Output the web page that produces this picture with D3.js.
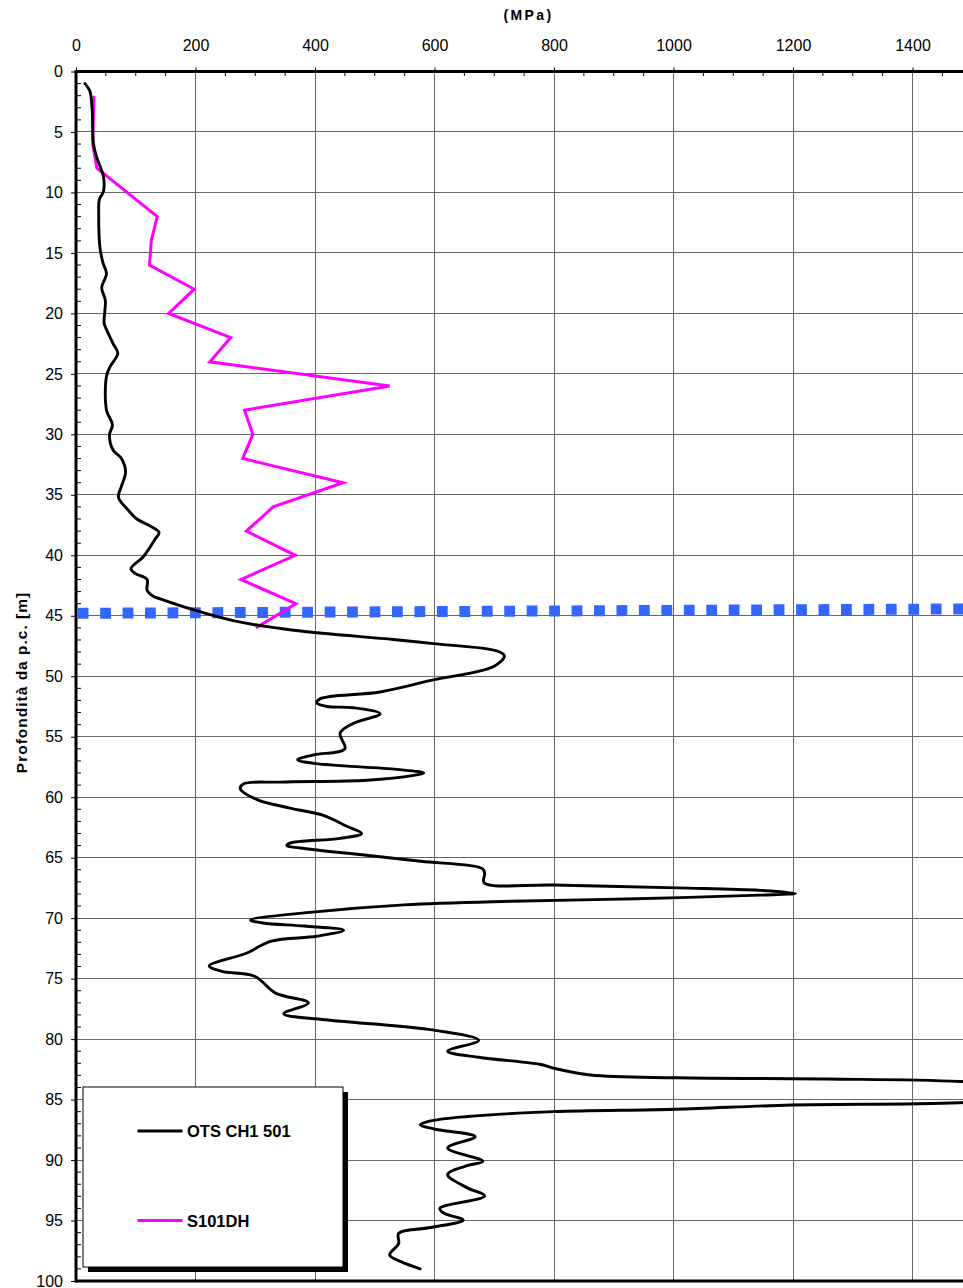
<!DOCTYPE html>
<html>
<head>
<meta charset="utf-8">
<script src="https://cdn.jsdelivr.net/npm/d3@7"></script>
<style>
  html, body { margin: 0; padding: 0; background: #fff; }
  svg { display: block; font-family: "Liberation Sans", Arial, sans-serif; }
</style>
</head>
<body>
<svg id="chart" width="963" height="1288"></svg>
<script>
// Modulus (MPa) vs depth below ground level (m)
const seriesNames = ["OTS CH1 501", "S101DH"];
const seriesColors = ["#000000", "#ff00ff"];

const xTickValues = [0, 200, 400, 600, 800, 1000, 1200, 1400];
const yTickValues = [0, 5, 10, 15, 20, 25, 30, 35, 40, 45, 50, 55, 60, 65, 70, 75, 80, 85, 90, 95, 100];

// OTS CH1 501 profile
const otsDepth = [
  1.0, 1.6, 3.1, 5.9, 7.0, 7.8, 8.7, 9.9, 10.6, 11.7, 14.5, 15.8, 16.7, 17.9, 18.9, 20.8, 21.1, 22.5, 23.3,
  24.4, 25.2, 28.0, 29.2, 30.05, 31.3, 32.0, 33.1, 34.3, 35.2, 36.3, 37.0, 37.5, 38.1, 38.7, 40.1, 41.1,
  41.5, 42.0, 42.9, 43.4, 43.6, 44.5, 45.4, 46.2, 46.96, 47.3, 47.9, 48.3, 49.2, 50.3, 51.3, 51.85, 52.2,
  52.5, 52.6, 53.1, 53.9, 54.7, 56.0, 56.5, 56.9, 57.2, 57.7, 58.0, 58.2, 58.6, 58.75, 58.9, 59.3, 60.2,
  60.9, 61.5, 62.4, 63.0, 63.4, 63.8, 64.0, 64.2, 64.8, 65.3, 65.9, 66.3, 67.07, 67.26, 67.5, 67.7, 67.95,
  68.1, 68.4, 68.6, 68.9, 69.5, 70.15, 70.4, 70.65, 71.0, 71.5, 71.9, 72.9, 73.95, 74.4, 74.8, 76.2, 77.0,
  77.9, 78.4, 79.2, 80.1, 81.0, 81.5, 82.1, 82.4, 82.97, 83.2, 83.3, 83.5, 84.4, 85.26, 85.45, 85.8, 86.0,
  86.4, 86.8, 87.1, 87.43, 88.07, 89.0, 90.1, 90.5, 91.2, 92.3, 92.97, 94.0, 94.4, 94.96, 95.6, 96.06,
  96.9, 97.85, 98.4, 99.0
];
const otsValue = [
  15, 23, 27, 29, 34, 40, 46, 46, 39, 38, 40, 45, 51, 43, 49, 47, 49, 62, 70,
  57, 51, 51, 61, 56, 62, 76, 83, 76, 71, 88, 102, 121, 139, 132, 113, 92,
  99, 119, 119, 130, 141, 196, 263, 364, 531, 598, 704, 717, 699, 598, 509, 409, 403,
  420, 464, 509, 464, 442, 450, 398, 371, 398, 537, 582, 565, 487, 342, 280, 275, 303,
  358, 414, 453, 478, 442, 358, 353, 375, 486, 577, 680, 684, 683, 798, 1007, 1145, 1204,
  1145, 937, 729, 549, 396, 292, 313, 382, 448, 403, 327, 285, 223, 244, 299, 334, 389,
  348, 417, 590, 674, 622, 674, 778, 799, 861, 1005, 1257, 1479, 1750, 1479, 1198, 1002, 799,
  655, 590, 576, 599, 668, 622, 681, 652, 622, 655, 684, 609, 616, 648, 590, 540,
  540, 525, 544, 576
];

// S101DH profile
const s101Depth = [2, 6, 8, 12, 14, 16, 18, 20, 22, 24, 26, 28, 30, 32, 34, 36, 38, 40, 42, 44, 46];
const s101Value = [30, 28, 35, 136, 126, 123, 198, 155, 259, 224, 525, 282, 296, 279, 447, 330, 285, 367, 276, 368, 301];

// groundwater level
const waterX = [0, 1500];
const waterDepth = [44.80, 44.43];

const svg = d3.select("#chart");
const plotLeft = 76, plotTop = 71.5, plotBottom = 1281;
const x = d3.scaleLinear().domain([0, 1500]).range([plotLeft, plotLeft + 1500 * 0.5975]);
const y = d3.scaleLinear().domain([0, 100]).range([plotTop, plotBottom]);
const plotRight = x(1500);

svg.append("defs").append("clipPath").attr("id", "plotclip")
  .append("rect").attr("x", plotLeft).attr("y", plotTop)
  .attr("width", plotRight - plotLeft).attr("height", plotBottom - plotTop);

// grid
const grid = svg.append("g").attr("stroke", "#666").attr("stroke-width", 1).attr("shape-rendering", "crispEdges");
grid.selectAll("line.gx").data(xTickValues.filter(v => v > 0)).join("line").attr("class", "gx")
  .attr("x1", d => x(d)).attr("x2", d => x(d)).attr("y1", plotTop).attr("y2", plotBottom);
grid.selectAll("line.gy").data(yTickValues.filter(v => v > 0 && v < 100)).join("line").attr("class", "gy")
  .attr("x1", plotLeft).attr("x2", plotRight).attr("y1", d => y(d)).attr("y2", d => y(d));

// top axis with major ticks above and minor ticks below
const xAxis = d3.axisTop(x).tickValues(xTickValues).tickSize(4).tickPadding(17).tickFormat(d3.format("d"));
const gx = svg.append("g").attr("transform", `translate(0,${plotTop})`).call(xAxis);
gx.select(".domain").remove();
gx.selectAll("text").attr("font-size", 16).attr("fill", "#000").attr("font-family", "Liberation Sans, Arial, sans-serif");
gx.selectAll("line").attr("stroke", "#000");
const xMinor = d3.range(50, 1500, 50).filter(v => v % 200 !== 0);
svg.append("g").selectAll("line").data(xMinor).join("line")
  .attr("x1", d => x(d)).attr("x2", d => x(d)).attr("y1", plotTop).attr("y2", plotTop + 4.5)
  .attr("stroke", "#000").attr("stroke-width", 1);

// left axis with major ticks outside and minor ticks inside
const yAxis = d3.axisLeft(y).tickValues(yTickValues).tickSize(5).tickPadding(8).tickFormat(d3.format("d"));
const gy = svg.append("g").attr("transform", `translate(${plotLeft},0)`).call(yAxis);
gy.select(".domain").remove();
gy.selectAll("text").attr("font-size", 16).attr("fill", "#000").attr("font-family", "Liberation Sans, Arial, sans-serif");
gy.selectAll("line").attr("stroke", "#000");
const yMinor = d3.range(1, 100, 1).filter(v => v % 5 !== 0);
svg.append("g").selectAll("line").data(yMinor).join("line")
  .attr("x1", plotLeft).attr("x2", plotLeft + 5).attr("y1", d => y(d)).attr("y2", d => y(d))
  .attr("stroke", "#000").attr("stroke-width", 1);

// frame lines
svg.append("line").attr("x1", plotLeft - 1.5).attr("x2", 963).attr("y1", plotTop).attr("y2", plotTop)
  .attr("stroke", "#000").attr("stroke-width", 3);
svg.append("line").attr("x1", plotLeft).attr("x2", plotLeft).attr("y1", plotTop).attr("y2", plotBottom + 1.5)
  .attr("stroke", "#000").attr("stroke-width", 3);
svg.append("line").attr("x1", plotLeft).attr("x2", 963).attr("y1", plotBottom).attr("y2", plotBottom)
  .attr("stroke", "#000").attr("stroke-width", 3);

const plot = svg.append("g").attr("clip-path", "url(#plotclip)");

// groundwater level (dotted blue)
const water = waterX.map((v, i) => ({ v, d: waterDepth[i] }));
plot.append("path").datum(water)
  .attr("d", d3.line().x(p => x(p.v)).y(p => y(p.d)))
  .attr("fill", "none").attr("stroke", "#3366ff").attr("stroke-width", 11)
  .attr("stroke-dasharray", "10.8 11.65").attr("stroke-dashoffset", 20.75);

// S101DH
const s101 = s101Depth.map((d, i) => ({ d, v: s101Value[i] }));
plot.append("path").datum(s101)
  .attr("d", d3.line().x(p => x(p.v)).y(p => y(p.d)))
  .attr("fill", "none").attr("stroke", seriesColors[1]).attr("stroke-width", 3)
  .attr("stroke-linejoin", "miter");

// OTS CH1 501
const ots = otsDepth.map((d, i) => ({ d, v: otsValue[i] }));
plot.append("path").datum(ots)
  .attr("d", d3.line().x(p => x(p.v)).y(p => y(p.d)).curve(d3.curveCatmullRom.alpha(0.5)))
  .attr("fill", "none").attr("stroke", seriesColors[0]).attr("stroke-width", 2.9)
  .attr("stroke-linejoin", "round").attr("stroke-linecap", "round");

// axis titles
svg.append("text").attr("x", 528.5).attr("y", 20).attr("text-anchor", "middle")
  .attr("font-size", 14).attr("font-weight", "bold").attr("letter-spacing", 2.4)
  .text("(MPa)");
svg.append("text").attr("transform", "translate(27,682.5) rotate(-90)").attr("text-anchor", "middle")
  .attr("font-size", 15.5).attr("font-weight", "bold").attr("letter-spacing", 1)
  .text("Profondità da p.c. [m]");

// legend
const lg = svg.append("g");
lg.append("rect").attr("x", 88).attr("y", 1092).attr("width", 260).attr("height", 180).attr("fill", "#000");
lg.append("rect").attr("x", 83).attr("y", 1087).attr("width", 260).attr("height", 180)
  .attr("fill", "#fff").attr("stroke", "#000").attr("stroke-width", 1);
const legendY = [1131, 1220.5];
seriesNames.forEach((name, i) => {
  lg.append("line").attr("x1", 137.5).attr("x2", 182.5).attr("y1", legendY[i]).attr("y2", legendY[i])
    .attr("stroke", seriesColors[i]).attr("stroke-width", 2.9);
  lg.append("text").attr("x", 187).attr("y", legendY[i] + 6).attr("font-size", 16.5)
    .attr("font-weight", "bold").text(name);
});
</script>
</body>
</html>
